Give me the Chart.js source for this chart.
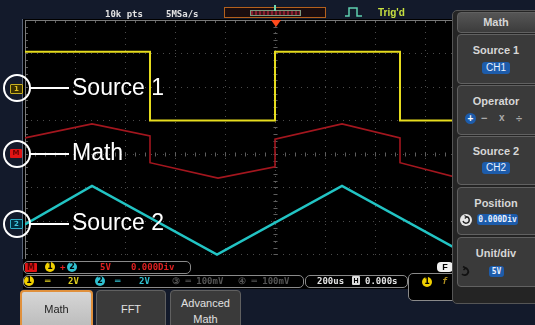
<!DOCTYPE html>
<html>
<head>
<meta charset="utf-8">
<title>Math</title>
<script src="https://cdn.jsdelivr.net/npm/chart.js@4.4.1/dist/chart.umd.min.js"></script>
<style>
  html, body { margin: 0; padding: 0; }
  body { width: 535px; height: 325px; overflow: hidden; background: #131a2b; position: relative; font-family: "Liberation Sans", Arial, sans-serif; }
  .abs { position: absolute; }
  #screen { left: 23px; top: 19px; width: 512px; height: 270px; background: #000; }
  #chartBox { left: 0; top: 0; width: 535px; height: 325px; }
  .mono { font-family: "DejaVu Sans Mono", monospace; font-weight: bold; font-size: 9px; line-height: 10px; white-space: nowrap; }
  .ring { width: 24px; height: 24px; border: 2px solid #fff; border-radius: 50%; }
  .lead { height: 2px; background: #fff; }
  .call { color: #fff; font-size: 23px; line-height: 23px; white-space: nowrap; }
  .tag { font-family: "DejaVu Sans", sans-serif; font-size: 7px; font-weight: bold; line-height: 8px; text-align: center; border-radius: 1px; }
  .dot { width: 10px; height: 10px; border-radius: 50%; font-family: "DejaVu Sans", sans-serif; font-size: 8px; font-weight: bold; line-height: 10px; text-align: center; color: #000; }
  #panel { left: 452px; top: 10px; width: 90px; height: 292px; background: #242424; border: 1px solid #555; border-radius: 5px; }
  .item { left: 457px; width: 84px; background: #3a3a3a; border: 1px solid #616161; border-radius: 4px; }
  .lbl { left: 457px; width: 78px; text-align: center; color: #d6d6d6; font-size: 11px; font-weight: bold; line-height: 12px; }
  .hl { background: #1d5cab; color: #e8f0ff; border-radius: 3px; text-align: center; font-size: 10px; line-height: 12px; }
  .btn { top: 290px; height: 40px; border-radius: 4px; text-align: center; font-size: 11px; }
  .box { border: 1px solid #8a8a8a; border-radius: 5px; background: #000; }
</style>
</head>
<body>
<div id="screen" class="abs"></div>
<div id="chartBox" class="abs"><canvas id="scope"></canvas></div>

<!-- top status line -->
<div class="abs mono" style="left:105px;top:9px;color:#e4e4e4;">10k pts</div>
<div class="abs mono" style="left:166px;top:9px;color:#e4e4e4;">5MSa/s</div>
<div class="abs" style="left:224px;top:7px;width:100px;height:9px;border:1px solid #b4601c;background:#1a0d0f;"></div>
<div class="abs" style="left:250px;top:10px;width:49px;height:4px;border:1px solid #7d9c80;background:repeating-linear-gradient(90deg,#8a2030 0 2px,#3a1418 2px 4px);"></div>
<div class="abs" style="left:274px;top:5px;width:2px;height:6px;background:#6fd8b0;"></div>
<svg class="abs" style="left:344px;top:6px;" width="20" height="12">
  <polyline points="1,10 5,10 5,2 13,2 13,10 18,10" fill="none" stroke="#5fd0b0" stroke-width="1.5"/>
</svg>
<div class="abs mono" style="left:378px;top:8px;color:#c8e040;font-family:'Liberation Sans',sans-serif;font-size:10px;">Trig'd</div>

<!-- bottom readout rows -->
<div class="abs" style="left:23px;top:259px;width:430px;height:30px;background:#000;"></div>
<div class="abs box" style="left:23px;top:261px;width:166px;height:11px;"></div>
<div class="abs tag" style="left:25px;top:263px;width:12px;height:9px;background:#e01414;color:#500;font-size:8px;line-height:9px;">M</div>
<div class="abs dot" style="left:45px;top:262px;background:#f0d000;">1</div>
<div class="abs mono" style="left:60px;top:262px;color:#e02020;">+</div>
<div class="abs dot" style="left:67px;top:262px;background:#30c0d0;">2</div>
<div class="abs mono" style="left:100px;top:262px;color:#e02020;">5V</div>
<div class="abs mono" style="left:131px;top:262px;color:#e02020;">0.000Div</div>

<div class="abs box" style="left:23px;top:275px;width:279px;height:11px;"></div>
<div class="abs dot" style="left:24px;top:276px;background:#f0d000;">1</div>
<div class="abs mono" style="left:45px;top:276px;color:#e0d020;">═</div>
<div class="abs mono" style="left:68px;top:276px;color:#e0d020;">2V</div>
<div class="abs dot" style="left:95px;top:276px;background:#30c0d0;">2</div>
<div class="abs mono" style="left:115px;top:276px;color:#30c0d0;">═</div>
<div class="abs mono" style="left:139px;top:276px;color:#30c0d0;">2V</div>
<div class="abs mono" style="left:172px;top:276px;color:#555;">③ ═ 100mV</div>
<div class="abs mono" style="left:238px;top:276px;color:#555;">④ ═ 100mV</div>

<div class="abs box" style="left:305px;top:275px;width:101px;height:11px;"></div>
<div class="abs mono" style="left:317px;top:276px;color:#e4e4e4;">200us</div>
<div class="abs" style="left:352px;top:276px;width:8px;height:9px;background:#ddd;border-radius:1px;font-size:7px;font-weight:bold;line-height:9px;text-align:center;color:#000;">H</div>
<div class="abs mono" style="left:365px;top:276px;color:#e4e4e4;">0.000s</div>

<div class="abs" style="left:408px;top:273px;width:116px;height:26px;border:1px solid #8a8a8a;border-radius:5px;background:#000;"></div>
<div class="abs dot" style="left:422px;top:277px;background:#f0d000;">1</div>
<div class="abs mono" style="left:442px;top:276px;color:#b09020;font-style:italic;">f</div>
<div class="abs" style="left:437px;top:262px;width:16px;height:10px;background:#f0f0f0;border-radius:4px;font-size:9px;font-weight:bold;line-height:10px;text-align:center;color:#000;">F</div>

<!-- soft buttons -->
<div class="abs btn" style="left:20px;width:69px;background:linear-gradient(#d6d6d6,#b8b8b8);border:2px solid #e0903c;color:#222;line-height:34px;">Math</div>
<div class="abs btn" style="left:96px;width:68px;background:#3a3a3a;border:1px solid #606060;color:#e0e0e0;line-height:36px;">FFT</div>
<div class="abs btn" style="left:170px;width:69px;background:#3a3a3a;border:1px solid #606060;color:#e0e0e0;line-height:16px;padding-top:4px;">Advanced<br>Math</div>

<!-- side menu -->
<div id="panel" class="abs"></div>
<div class="abs item" style="top:12px;height:19px;background:linear-gradient(#555,#3c3c3c);"></div>
<div class="abs lbl" style="top:16px;">Math</div>
<div class="abs item" style="top:34px;height:48px;"></div>
<div class="abs lbl" style="top:44px;">Source 1</div>
<div class="abs hl" style="left:482px;top:62px;width:28px;">CH1</div>
<div class="abs item" style="top:85px;height:48px;"></div>
<div class="abs lbl" style="top:95px;">Operator</div>
<div class="abs" style="left:465px;top:113px;width:11px;height:11px;border-radius:50%;background:#1d5cab;color:#fff;font-size:10px;font-weight:bold;line-height:11px;text-align:center;">+</div>
<div class="abs" style="left:481px;top:112px;color:#aaa;font-size:11px;font-weight:bold;">−</div>
<div class="abs" style="left:499px;top:112px;color:#aaa;font-size:10px;font-weight:bold;">x</div>
<div class="abs" style="left:516px;top:112px;color:#aaa;font-size:11px;font-weight:bold;">÷</div>
<div class="abs item" style="top:136px;height:47px;"></div>
<div class="abs lbl" style="top:145px;">Source 2</div>
<div class="abs hl" style="left:482px;top:162px;width:28px;">CH2</div>
<div class="abs item" style="top:187px;height:46px;"></div>
<div class="abs lbl" style="top:197px;">Position</div>
<svg class="abs" style="left:459px;top:213px;" width="14" height="14">
  <circle cx="7" cy="7" r="6" fill="#e6e6e6"/>
  <path d="M4,8 A3.2,3.2 0 1 0 7,3.8" fill="none" stroke="#222" stroke-width="1.4"/>
  <polyline points="5.5,2.5 7.5,3.8 5.8,5.5" fill="none" stroke="#222" stroke-width="1.2"/>
</svg>
<div class="abs hl mono" style="left:477px;top:214px;width:41px;font-size:8px;line-height:11px;">0.000Div</div>
<div class="abs item" style="top:237px;height:48px;"></div>
<div class="abs lbl" style="top:247px;">Unit/div</div>
<svg class="abs" style="left:458px;top:265px;" width="14" height="14">
  <path d="M4,9 A3.6,3.6 0 1 0 7,3" fill="none" stroke="#111" stroke-width="1.8"/>
  <polyline points="5,1.5 7.5,3 5.5,5" fill="none" stroke="#111" stroke-width="1.5"/>
</svg>
<div class="abs hl mono" style="left:489px;top:266px;width:15px;font-size:8px;line-height:11px;">5V</div>

<!-- left channel markers and callouts -->
<div class="abs" style="left:22px;top:19px;width:1px;height:240px;background:#5a6478;"></div>
<div class="abs tag" style="left:10px;top:84px;width:11px;height:8px;border:1px solid #c8b020;color:#e0c020;background:#3a3000;">1</div>
<div class="abs tag" style="left:10px;top:149px;width:12px;height:9px;background:#e01414;color:#600;">M</div>
<div class="abs tag" style="left:10px;top:219px;width:11px;height:8px;border:1px solid #30b0c8;color:#40c8e0;background:#003040;">2</div>

<div class="abs ring" style="left:3px;top:74px;"></div>
<div class="abs lead" style="left:30px;top:87px;width:39px;"></div>
<div class="abs call" style="left:72px;top:76px;">Source 1</div>

<div class="abs ring" style="left:3px;top:140px;"></div>
<div class="abs lead" style="left:30px;top:153px;width:39px;"></div>
<div class="abs call" style="left:72px;top:141px;">Math</div>

<div class="abs ring" style="left:3px;top:210px;"></div>
<div class="abs lead" style="left:30px;top:223px;width:39px;"></div>
<div class="abs call" style="left:72px;top:211px;">Source 2</div>

<div class="abs" style="left:271px;top:20px;width:0;height:0;border-left:5px solid transparent;border-right:5px solid transparent;border-top:7px solid #ff4a1c;"></div>

<script>
// horizontal: 200us/div, 10 divisions
const timeMin = -1000;
const timeMax = 1000;
const timePerDiv = 200;

// channel 1: square wave, 2V/div, marker at +2 div
const ch1Time = [-1000, -500, -500, 0, 0, 500, 500, 1000];
const ch1Volts = [2.1, 2.1, -2.0, -2.0, 2.1, 2.1, -2.0, -2.0];
const ch1VoltsPerDiv = 2;
const ch1Offset = 2;

// channel 2: triangle wave, 2V/div, marker at -2 div
const ch2Time = [-1000, -732, -232, 268, 768, 1000];
const ch2Volts = [-0.2, 2.1, -2.0, 2.1, -2.0, -0.2];
const ch2VoltsPerDiv = 2;
const ch2Offset = -2;

// math: CH1 + CH2, 5V/div, position 0.000Div
const mathTime = [-1000, -732, -500, -500, -228, 0, 0, 268, 500, 500, 768, 1000];
const mathVolts = [2.4, 4.5, 2.7, -1.3, -3.6, -1.9, 2.2, 4.5, 2.4, -1.3, -3.9, -1.6];
const mathVoltsPerDiv = 5;
const mathOffset = 0;

function toPoints(times, volts, voltsPerDiv, offset) {
  return times.map((t, i) => ({ x: t, y: volts[i] / voltsPerDiv + offset }));
}

// small ticks on the centre cross and the frame, like a scope graticule
const graticule = {
  id: "graticule",
  beforeDatasetsDraw(chart) {
    const ctx = chart.ctx;
    const xs = chart.scales.x;
    const ys = chart.scales.y;
    const area = chart.chartArea;
    const cx = Math.round(xs.getPixelForValue(0)) + 0.5;
    const cy = Math.round(ys.getPixelForValue(0)) + 0.5;
    ctx.save();
    ctx.strokeStyle = "#5e5e5e";
    ctx.lineWidth = 1;
    ctx.beginPath();
    for (let t = timeMin; t <= timeMax; t += timePerDiv / 5) {
      const px = Math.round(xs.getPixelForValue(t)) + 0.5;
      ctx.moveTo(px, cy - 2);
      ctx.lineTo(px, cy + 2);
      ctx.moveTo(px, area.top);
      ctx.lineTo(px, area.top + 3);
    }
    for (let d = -4; d <= 4; d += 0.2) {
      const py = Math.round(ys.getPixelForValue(d)) + 0.5;
      ctx.moveTo(cx - 2, py);
      ctx.lineTo(cx + 2, py);
      ctx.moveTo(area.left, py);
      ctx.lineTo(area.left + 3, py);
    }
    ctx.stroke();
    ctx.strokeStyle = "#7a7a7a";
    ctx.beginPath();
    ctx.moveTo(area.left + 0.5, area.top + 0.5);
    ctx.lineTo(area.right, area.top + 0.5);
    ctx.moveTo(area.left + 0.5, area.top);
    ctx.lineTo(area.left + 0.5, area.bottom);
    ctx.stroke();
    ctx.restore();
  }
};

new Chart(document.getElementById("scope"), {
  type: "line",
  data: {
    datasets: [
      { label: "CH1", data: toPoints(ch1Time, ch1Volts, ch1VoltsPerDiv, ch1Offset), borderColor: "#e6dc1e", borderWidth: 2 },
      { label: "Math", data: toPoints(mathTime, mathVolts, mathVoltsPerDiv, mathOffset), borderColor: "#a3161e", borderWidth: 1.6 },
      { label: "CH2", data: toPoints(ch2Time, ch2Volts, ch2VoltsPerDiv, ch2Offset), borderColor: "#22c4c4", borderWidth: 2.5 }
    ]
  },
  options: {
    responsive: true,
    maintainAspectRatio: false,
    animation: false,
    events: [],
    layout: { padding: { left: 25, right: 10, top: 20, bottom: 37 } },
    elements: { point: { radius: 0 }, line: { tension: 0 } },
    plugins: { legend: { display: false }, tooltip: { enabled: false } },
    scales: {
      x: {
        type: "linear",
        min: timeMin,
        max: timeMax,
        ticks: { display: false, stepSize: timePerDiv },
        grid: { color: "#4a4a4a", drawTicks: false, lineWidth: 1 },
        border: { display: false, dash: [1, 5] }
      },
      y: {
        min: -4,
        max: 4,
        ticks: { display: false, stepSize: 1 },
        grid: { color: "#4a4a4a", drawTicks: false, lineWidth: 1 },
        border: { display: false, dash: [1, 5] }
      }
    }
  },
  plugins: [graticule]
});
</script>
</body>
</html>
